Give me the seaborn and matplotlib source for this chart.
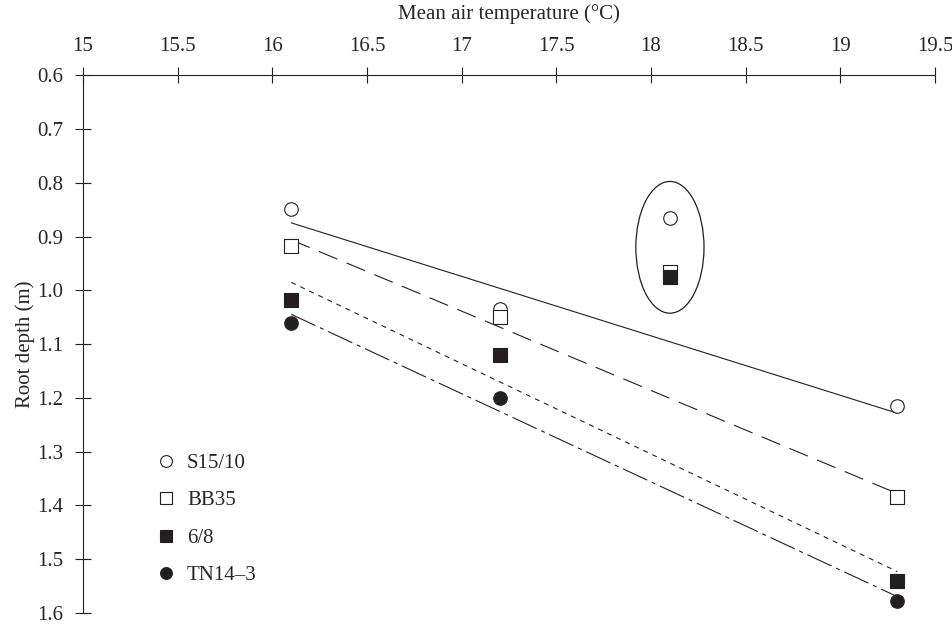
import numpy as np
import pandas as pd
import seaborn as sns
import matplotlib.pyplot as plt
from matplotlib.patches import Ellipse
from matplotlib.lines import Line2D
from matplotlib.ticker import FormatStrFormatter, MultipleLocator


# regression points (mean air temperature, degC)
temps = [16.1, 17.2, 19.3]
s15_10 = [0.849, 1.035, 1.215]
bb35 = [0.918, 1.050, 1.384]
six_8 = [1.018, 1.120, 1.540]
tn14_3 = [1.061, 1.200, 1.578]

# circled outlier site, left out of the fits
out_temp = 18.1
out_s15_10 = 0.865
out_bb35 = 0.965
out_six_8 = 0.975

labels = ['S15/10', 'BB35', '6/8', 'TN14\u20133']


sns.set_style('ticks')
plt.rcParams['font.family'] = ['Liberation Serif', 'DejaVu Serif']
plt.rcParams['font.size'] = 15

INK = '#231f20'

series = [
    # label, fitted values, outlier, marker, face, line style
    (labels[0], s15_10, out_s15_10, 'o', 'white', '-'),
    (labels[1], bb35, out_bb35, 's', 'white', (0, (18, 9))),
    (labels[2], six_8, out_six_8, 's', INK, (0, (4.5, 4.5))),
    (labels[3], tn14_3, None, 'o', INK, (0, (24, 4.5, 3.6, 4.5))),
]

fig = plt.figure(figsize=(9.53, 6.26), dpi=100)
ax = fig.add_axes([0.0871, 0.0208, 0.894, 0.859])

for name, vals, outv, mk, face, ls in series:
    df = pd.DataFrame({'temp': temps, 'depth': vals})
    sns.regplot(data=df, x='temp', y='depth', ax=ax, ci=None, scatter=False,
                line_kws=dict(color=INK, lw=0.8, linestyle=ls, zorder=2))
    if outv is not None:
        df = pd.concat([df, pd.DataFrame({'temp': [out_temp], 'depth': [outv]})])
    sns.scatterplot(data=df, x='temp', y='depth', ax=ax, marker=mk, s=95,
                    facecolor=face, edgecolor=INK, linewidth=0.8, zorder=3)

# ellipse round the outlier site
outs = [out_s15_10, out_bb35, out_six_8]
ax.add_patch(Ellipse((out_temp, (min(outs) + max(outs)) / 2), 0.36, 0.245,
                     fill=False, edgecolor=INK, lw=0.9, zorder=1))

ax.set_xlim(15, 19.5)
ax.set_ylim(1.6, 0.6)
ax.xaxis.set_major_locator(MultipleLocator(0.5))
ax.yaxis.set_major_locator(MultipleLocator(0.1))
ax.xaxis.set_major_formatter(FormatStrFormatter('%g'))
ax.yaxis.set_major_formatter(FormatStrFormatter('%.1f'))
ax.xaxis.tick_top()
ax.xaxis.set_label_position('top')
ax.set_xlabel('Mean air temperature (\u00b0C)', labelpad=13)
ax.set_ylabel('Root depth (m)', labelpad=2)

for side in ['right', 'bottom']:
    ax.spines[side].set_visible(False)
for side in ['left', 'top']:
    ax.spines[side].set_linewidth(0.8)
    ax.spines[side].set_color(INK)
ax.tick_params(direction='inout', length=11, width=0.8, color=INK, labelsize=15)
ax.tick_params(axis='x', pad=8)
ax.tick_params(axis='y', pad=8.5)

handles = [Line2D([], [], ls='none', marker=mk, markersize=8.5,
                  markerfacecolor=face, markeredgecolor=INK, markeredgewidth=0.8)
           for _, _, _, mk, face, _ in series]
ax.legend(handles, labels, loc='lower left', bbox_to_anchor=(0.061, 0.0165),
          frameon=False, labelspacing=0.86, handletextpad=0.4, handlelength=1.2,
          fontsize=15)

fig.savefig('out.png', dpi=100)
